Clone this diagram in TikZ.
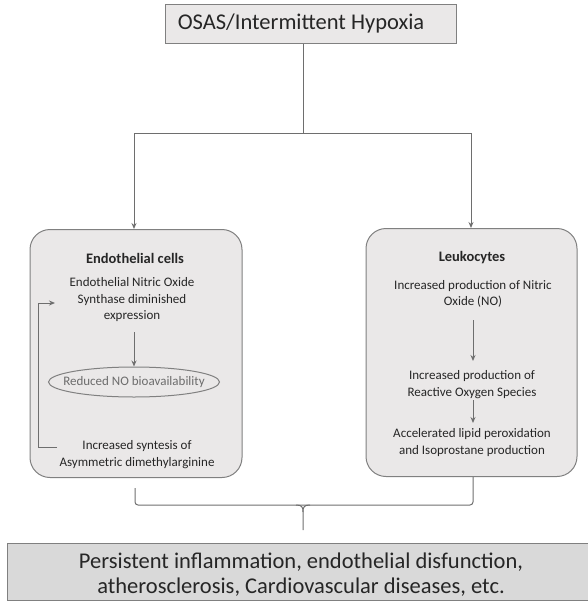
\documentclass[tikz,border=0pt]{standalone}
\usepackage{fontspec}
\setmainfont{Carlito}
\usetikzlibrary{arrows.meta,shapes.geometric}
\definecolor{txt}{HTML}{262626}
\definecolor{lin}{HTML}{6E6E6E}
\definecolor{bord}{HTML}{808080}
\definecolor{fillA}{HTML}{EAE8E8}
\definecolor{fillB}{HTML}{D9D9D9}
\begin{document}
\begin{tikzpicture}[x=1pt,y=-1pt,
  every node/.style={text=txt,inner sep=0pt,align=center},
  conn/.style={draw=lin,line width=1pt},
  arr/.style={conn,-{Stealth[length=6pt,width=5pt]}},
  cellbox/.style={draw=bord,line width=1pt,fill=fillA,rounded corners=20pt,minimum width=212pt,minimum height=248pt},
  small/.style={font=\fontsize{13}{16.5}\selectfont},
  celltitle/.style={font=\fontsize{14.5}{16}\selectfont\bfseries},
]
\useasboundingbox (0,0) rectangle (588,603);
% top box
\node[draw=bord,line width=1pt,fill=fillA,minimum width=291pt,minimum height=39pt] (top) at (310.5,23.5) {};
\node[font=\fontsize{22.5}{26}\selectfont] (toptxt) at (301,23) {OSAS/Intermittent Hypoxia};
% cell boxes
\node[cellbox] (lbox) at (136,353.5) {};
\node[cellbox,minimum width=211pt] (rbox) at (471.5,352.5) {};
% branch
\coordinate (jn) at (303,133);
\coordinate (jl) at (134,133);
\coordinate (jr) at (471,133);
\draw[conn] (top.south -| jn) -- (jn);
\draw[arr] (jl) -- (jl |- lbox.north);
\draw[conn] (jl) -- (jr);
\draw[arr] (jr) -- (jr |- rbox.north);
% left contents
\node[celltitle] (ltitle) at (135,258) {Endothelial cells};
\node[small] (enos) at (132,300) {Endothelial Nitric Oxide\\Synthase diminished\\expression};
\node[draw=bord,line width=1pt,ellipse,minimum width=171pt,minimum height=30pt,text=gray!85!black,small] (redno) at (134,382) {\makebox[0pt]{Reduced NO bioavailability}};
\node[small] (adma) at (137,454.5) {Increased syntesis of\\Asymmetric dimethylarginine};
\draw[arr] (134,332) -- (redno.north);
\coordinate (fb1) at (38,447);
\coordinate (fb2) at (38,303);
\draw[conn,-{Stealth[length=6pt,width=5pt]}] (57,447) -- (fb1) -- (fb2) -- (55,303);
% right contents
\node[celltitle] (rtitle) at (472,258) {Leukocytes};
\node[small] (noprod) at (473,294) {Increased production of Nitric\\Oxide (NO)};
\node[small] (ros) at (472,384.5) {Increased production of\\Reactive Oxygen Species};
\node[small] (lipid) at (472,442.5) {Accelerated lipid peroxidation\\and Isoprostane production};
\draw[arr] (473,320) -- (473,361);
\draw[arr] (473,400) -- (473,423);
% brace
\coordinate (bl) at (135,488);
\coordinate (br) at (473,477);
\coordinate (bc) at (303,505);
\draw[conn,rounded corners=3pt] (bl) |- (bc) -| (br);
\draw[conn] (296,505) .. controls (302,505) and (303,507) .. (303,512) -- (303,530);
\draw[conn] (310,505) .. controls (304,505) and (303,507) .. (303,512);
% bottom box
\node[draw=bord,line width=1.2pt,fill=fillB,minimum width=590pt,minimum height=57pt,anchor=north west] (bot) at (7,543) {};
\node[font=\fontsize{22.5}{25}\selectfont] (bottxt) at (301,575) {Persistent inflammation, endothelial disfunction,\\atherosclerosis, Cardiovascular diseases, etc.};
\end{tikzpicture}
\end{document}
